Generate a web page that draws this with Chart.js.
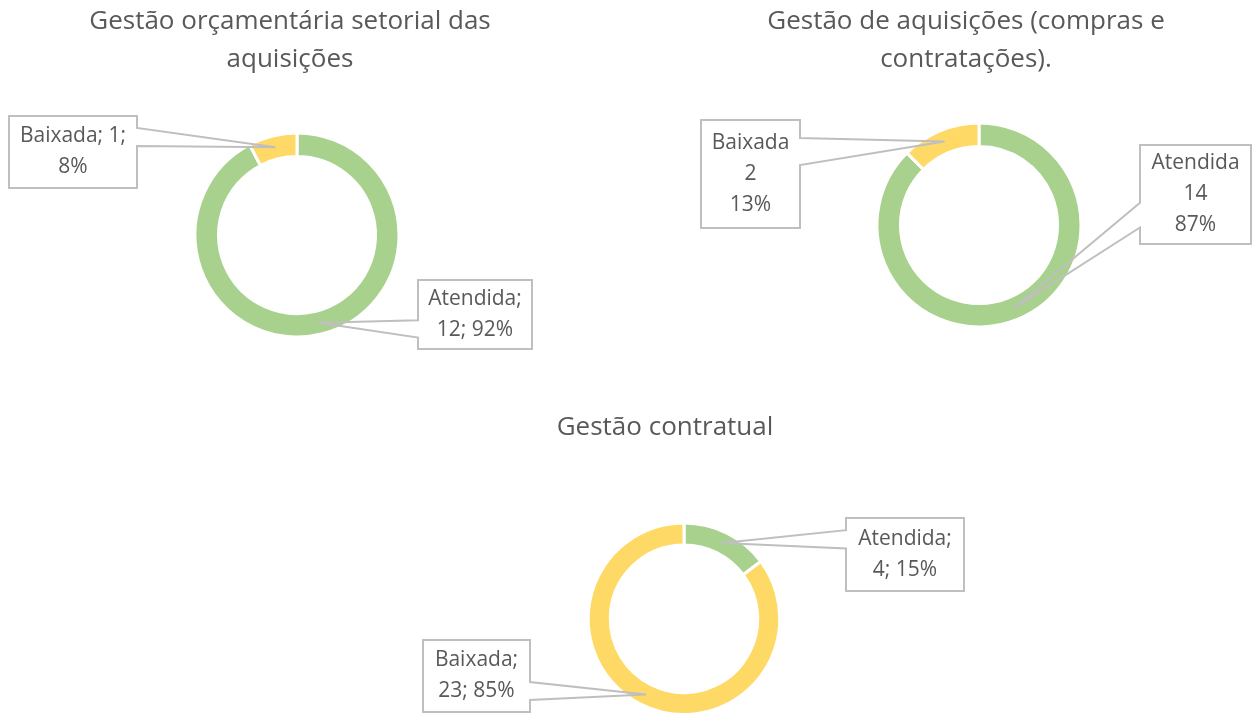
<!DOCTYPE html>
<html>
<head>
<meta charset="utf-8">
<script src="https://cdn.jsdelivr.net/npm/chart.js@4.4.1/dist/chart.umd.min.js"></script>
<style>
html, body { margin: 0; padding: 0; background: #fff; }
#quadro { position: relative; width: 1252px; height: 716px; overflow: hidden; }
#quadro canvas { position: absolute; left: 0; top: 0; }
</style>
</head>
<body>
<div id="quadro">
  <canvas id="orcamentaria" width="1252" height="716"></canvas>
  <canvas id="aquisicoes" width="1252" height="716"></canvas>
  <canvas id="contratual" width="1252" height="716"></canvas>
</div>
<script>
// dados
var categorias       = ["Atendida", "Baixada"];
var orcamentaria     = [12, 1];
var orcamentariaPct  = [92, 8];
var aquisicoes       = [14, 2];
var aquisicoesPct    = [87, 13];
var contratual       = [4, 23];
var contratualPct    = [15, 85];

var tituloOrcamentaria = ["Gestão orçamentária setorial das", "aquisições"];
var tituloAquisicoes   = ["Gestão de aquisições (compras e", "contratações)."];
var tituloContratual   = ["Gestão contratual"];

var cores = ["#A9D18E", "#FFD966"];
var corTexto = "#595959";
var corBorda = "#BFBFBF";
var fonte = '"Open Sans", "Noto Sans", sans-serif';

// desenha titulo e as caixas de rotulo (callout) com a cunha ate a fatia
var rotulos = {
  id: 'rotulos',
  afterDraw: function(chart, args, opts) {
    var ctx = chart.ctx;
    var meta = chart.getDatasetMeta(0);
    var valores = chart.data.datasets[0].data;
    ctx.save();
    ctx.fillStyle = corTexto;
    ctx.textAlign = 'center';
    ctx.textBaseline = 'middle';
    ctx.font = '26px ' + fonte;
    opts.titulo.forEach(function(linha, i) {
      ctx.fillText(linha, opts.tituloX, opts.tituloY + i * 38);
    });

    meta.data.forEach(function(arc, i) {
      var c = opts.caixas[i];
      var p = arc.getCenterPoint();
      var hc = c.x + c.w / 2, vc = c.y + c.h / 2;
      var dx = p.x - hc, dy = p.y - vc;
      var dq = dx * c.h / c.w;

      ctx.fillStyle = '#fff';
      ctx.fillRect(c.x, c.y, c.w, c.h);

      ctx.beginPath();
      if (Math.abs(dy) < Math.abs(dq)) {
        var y1 = c.y + c.h * (dy > 0 ? 7 : 2) / 12;
        var y2 = c.y + c.h * (dy > 0 ? 10 : 5) / 12;
        if (dx < 0) {
          ctx.moveTo(c.x, c.y);
          ctx.lineTo(c.x + c.w, c.y);
          ctx.lineTo(c.x + c.w, c.y + c.h);
          ctx.lineTo(c.x, c.y + c.h);
          ctx.lineTo(c.x, y2);
          ctx.lineTo(p.x, p.y);
          ctx.lineTo(c.x, y1);
        } else {
          ctx.moveTo(c.x, c.y);
          ctx.lineTo(c.x + c.w, c.y);
          ctx.lineTo(c.x + c.w, y1);
          ctx.lineTo(p.x, p.y);
          ctx.lineTo(c.x + c.w, y2);
          ctx.lineTo(c.x + c.w, c.y + c.h);
          ctx.lineTo(c.x, c.y + c.h);
        }
      } else {
        var x1 = c.x + c.w * (dx > 0 ? 7 : 2) / 12;
        var x2 = c.x + c.w * (dx > 0 ? 10 : 5) / 12;
        if (dy < 0) {
          ctx.moveTo(c.x, c.y);
          ctx.lineTo(x1, c.y);
          ctx.lineTo(p.x, p.y);
          ctx.lineTo(x2, c.y);
          ctx.lineTo(c.x + c.w, c.y);
          ctx.lineTo(c.x + c.w, c.y + c.h);
          ctx.lineTo(c.x, c.y + c.h);
        } else {
          ctx.moveTo(c.x, c.y);
          ctx.lineTo(c.x + c.w, c.y);
          ctx.lineTo(c.x + c.w, c.y + c.h);
          ctx.lineTo(x2, c.y + c.h);
          ctx.lineTo(p.x, p.y);
          ctx.lineTo(x1, c.y + c.h);
          ctx.lineTo(c.x, c.y + c.h);
        }
      }
      ctx.closePath();
      ctx.strokeStyle = corBorda;
      ctx.lineWidth = 2;
      ctx.stroke();

      var linhas = opts.formato(chart.data.labels[i], valores[i], opts.pct[i], i);
      ctx.fillStyle = corTexto;
      ctx.font = '21px ' + fonte;
      var y0 = vc - (linhas.length - 1) * 31 / 2;
      linhas.forEach(function(l, k) {
        ctx.fillText(l, hc, y0 + k * 31);
      });
    });
    ctx.restore();
  }
};

function rosca(id, valores, pct, titulo, tituloX, tituloY, cx, cy, r, caixas, formato) {
  var bw = 3;
  var lado = 2 * r + bw;
  var W = 1252, H = 716;
  return new Chart(document.getElementById(id), {
    type: 'doughnut',
    data: {
      labels: categorias,
      datasets: [{
        data: valores,
        backgroundColor: cores,
        borderColor: '#ffffff',
        borderWidth: bw,
        hoverOffset: 0
      }]
    },
    options: {
      responsive: false,
      animation: false,
      cutout: '77%',
      layout: {
        padding: {
          left: cx - lado / 2,
          right: W - (cx + lado / 2),
          top: cy - lado / 2,
          bottom: H - (cy + lado / 2)
        }
      },
      plugins: {
        legend: { display: false },
        tooltip: { enabled: false },
        title: { display: false },
        rotulos: {
          titulo: titulo, tituloX: tituloX, tituloY: tituloY,
          pct: pct, caixas: caixas, formato: formato
        }
      }
    },
    plugins: [rotulos]
  });
}

rosca('orcamentaria', orcamentaria, orcamentariaPct, tituloOrcamentaria, 290, 22,
  297, 235, 102,
  [{x: 418, y: 280, w: 114, h: 69}, {x: 9, y: 116, w: 128, h: 72}],
  function(cat, v, p, i) {
    return i == 0 ? [cat + ';', v + '; ' + p + '%'] : [cat + '; ' + v + ';', p + '%'];
  });

rosca('aquisicoes', aquisicoes, aquisicoesPct, tituloAquisicoes, 966, 22,
  979, 225, 102,
  [{x: 1140, y: 145, w: 111, h: 99}, {x: 701, y: 120, w: 99, h: 108}],
  function(cat, v, p) {
    return [cat, String(v), p + '%'];
  });

rosca('contratual', contratual, contratualPct, tituloContratual, 665, 428,
  684, 619, 96,
  [{x: 846, y: 518, w: 118, h: 73}, {x: 423, y: 640, w: 107, h: 72}],
  function(cat, v, p) {
    return [cat + ';', v + '; ' + p + '%'];
  });
</script>
</body>
</html>
